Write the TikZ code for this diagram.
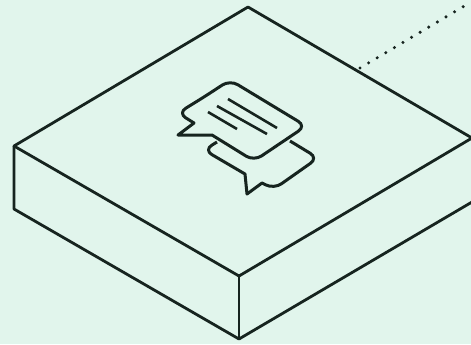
\documentclass[tikz,border=0pt]{standalone}
\begin{document}
\definecolor{slabbg}{HTML}{E1F5EC}
\definecolor{slabline}{HTML}{16241F}
\begin{tikzpicture}[x=0.05cm,y=-0.05cm,line join=round,
  edge/.style={draw=slabline,line width=0.14cm},
  bubble/.style={draw=slabline,line width=0.15cm,rounded corners=0.45cm},
  textline/.style={draw=slabline,line width=0.13cm}]
\useasboundingbox[fill=slabbg] (0,0) rectangle (471,344);
% corners of the slab
\coordinate (left) at (14,146);
\coordinate (top) at (248,7);
\coordinate (right) at (472,138);
\coordinate (front) at (239,276);
\coordinate (lowleft) at (14,209);
\coordinate (bottom) at (239,339);
\coordinate (lowright) at (472,202);
\coordinate (out) at (471,2);
\coordinate (wire) at (360,68);
\begin{scope}
\clip (0,0) rectangle (471,344);
\draw[edge] (left)--(top)--(right)--(front)--cycle;
\draw[edge] (left)--(lowleft)--(bottom)--(lowright);
\draw[edge] (front)--(bottom);
\draw[draw=slabline,line width=0.17cm,line cap=round,dash pattern=on 0pt off 0.5cm] (wire)--(out);
\end{scope}
% lower bubble
\draw[bubble] (217,142)--(204,150)[sharp corners]--(245,174)--(247,194)--(262,183)[rounded corners=0.45cm]--(274,189)--(318,158)--(290,141);
% upper bubble
\draw[bubble] (204,97)--(178,113)[sharp corners]--(194,123)--(178,135)--(212,135)[rounded corners=0.45cm]--(254,161)--(306,126)--(230,80)--cycle;
\draw[textline] (228,99)--(277,128);
\draw[textline] (217,106)--(267,134);
\draw[textline] (208,112)--(237,129);
\end{tikzpicture}
\end{document}
